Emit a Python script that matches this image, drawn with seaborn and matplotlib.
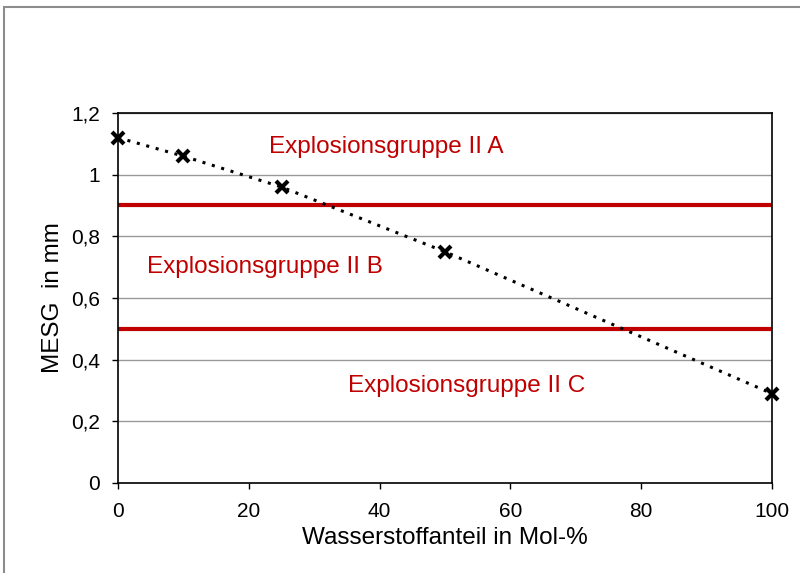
import seaborn as sns
import matplotlib.pyplot as plt
from matplotlib.patches import Rectangle

sns.set_style("white")
plt.rcParams['font.family'] = ['Liberation Sans', 'DejaVu Sans']
plt.rcParams['text.color'] = 'black'
plt.rcParams['axes.labelcolor'] = 'black'
plt.rcParams['xtick.color'] = 'black'
plt.rcParams['ytick.color'] = 'black'

# data
h2_share = [0, 10, 25, 50, 100]
mesg = [1.12, 1.06, 0.96, 0.75, 0.29]
group_limits = [0.9, 0.5]
group_labels = ["Explosionsgruppe II A", "Explosionsgruppe II B", "Explosionsgruppe II C"]
label_x = [41, 22.5, 53.3]
label_y = [1.09, 0.70, 0.315]
y_ticks = [0, 0.2, 0.4, 0.6, 0.8, 1, 1.2]
y_ticklabels = ["0", "0,2", "0,4", "0,6", "0,8", "1", "1,2"]

fig = plt.figure(figsize=(8, 5.73), dpi=100)
ax = fig.add_axes([118/800, 1 - 483/573, (772-118)/800, (483-113)/573])

# outer frame, cut off at right and bottom like the original
fig.patches.append(Rectangle((4/800, -0.05), 1.1, 1 - 7/573 + 0.05,
                             transform=fig.transFigure, fill=False,
                             edgecolor='#8c8c8c', lw=1.5))

for v in y_ticks[1:]:
    ax.axhline(v, color='#999999', lw=1, zorder=1)
for v in group_limits:
    ax.axhline(v, color='#c00000', lw=3, zorder=2)

sns.lineplot(x=h2_share, y=mesg, ax=ax, color='black', linestyle=(0, (1, 2.2)),
             lw=2.2, zorder=3)
ax.plot(h2_share, mesg, ls='none', marker='x', color='black', ms=9, mew=3,
        zorder=4, clip_on=False)

for t, x, y in zip(group_labels, label_x, label_y):
    ax.text(x, y, t, color='#c00000', fontsize=17.5, ha='center', va='center')

ax.set_xlim(0, 100)
ax.set_ylim(0, 1.2)
ax.set_xticks([0, 20, 40, 60, 80, 100])
ax.set_yticks(y_ticks)
ax.set_yticklabels(y_ticklabels)
ax.tick_params(labelsize=15, length=4, width=1, direction='out', color='black',
               bottom=True, left=True)
ax.tick_params(axis='x', pad=10)
ax.tick_params(axis='y', pad=9)
for s in ax.spines.values():
    s.set_color('black')
    s.set_linewidth(1.2)
ax.set_xlabel("Wasserstoffanteil in Mol-%", fontsize=17.5, labelpad=4)
ax.set_ylabel("MESG  in mm", fontsize=17.5, labelpad=5)

fig.savefig("out.png", dpi=100)
